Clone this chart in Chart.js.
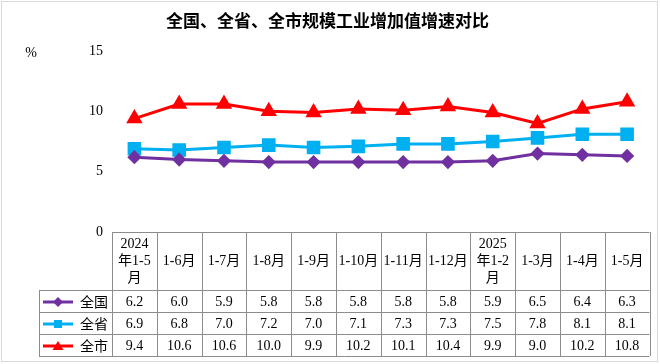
<!DOCTYPE html>
<html>
<head>
<meta charset="utf-8">
<script src="https://cdn.jsdelivr.net/npm/chart.js"></script>
<style>
  html, body { margin: 0; padding: 0; background: #fff; }
  #wrap { width: 660px; height: 364px; position: relative; }
</style>
</head>
<body>
<div id="wrap"><canvas id="growthChart" width="660" height="364"></canvas></div>
<script>
// ---------------- DATA ----------------

const periods = [
    ["2024", "年1-5", "月"],
    ["1-6月"], ["1-7月"], ["1-8月"], ["1-9月"], ["1-10月"],
    ["1-11月"], ["1-12月"],
    ["2025", "年1-2", "月"],
    ["1-3月"], ["1-4月"], ["1-5月"]
];

const nationValues = [6.2, 6.0, 5.9, 5.8, 5.8, 5.8, 5.8, 5.8, 5.9, 6.5, 6.4, 6.3];
const provinceValues = [6.9, 6.8, 7.0, 7.2, 7.0, 7.1, 7.3, 7.3, 7.5, 7.8, 8.1, 8.1];
const cityValues = [9.4, 10.6, 10.6, 10.0, 9.9, 10.2, 10.1, 10.4, 9.9, 9.0, 10.2, 10.8];

const seriesNames = ["全国", "全省", "全市"];
const yTicks = [0, 5, 10, 15];

const serif = "'Liberation Serif', 'Noto Sans CJK SC', serif";


// ---------------- HELPERS ----------------

function marker(ctx, style, x, y, r, color) {
    ctx.save();
    ctx.fillStyle = color;
    ctx.beginPath();
    if (style === "rectRot") {
        ctx.moveTo(x, y - r);
        ctx.lineTo(x + r, y);
        ctx.lineTo(x, y + r);
        ctx.lineTo(x - r, y);
    } else if (style === "rect") {
        ctx.rect(x - r, y - r, 2 * r, 2 * r);
    } else {
        ctx.moveTo(x, y - r);
        ctx.lineTo(x + r * 1.1, y + r * 0.8);
        ctx.lineTo(x - r * 1.1, y + r * 0.8);
    }
    ctx.closePath();
    ctx.fill();
    ctx.restore();
}


// ---------------- TABLE + FRAME PLUGIN ----------------

const dataTable = {
    id: "dataTable",
    afterDraw(chart) {
        const ctx = chart.ctx;
        const area = chart.chartArea;
        const x = chart.scales.x;
        const n = periods.length;
        const step = (area.right - area.left) / n;

        const top = Math.round(area.bottom);
        const headBottom = top + 58;
        const rowH = 22;
        const labelLeft = 39;
        const bottom = headBottom + rowH * 3;

        ctx.save();

        // outer frame
        ctx.strokeStyle = "#d9d9d9";
        ctx.lineWidth = 1;
        ctx.strokeRect(1.5, 1.5, 656, 360);

        // % unit
        ctx.fillStyle = "#000";
        ctx.font = "14px " + serif;
        ctx.textAlign = "center";
        ctx.textBaseline = "middle";
        ctx.fillText("%", 31, 53);

        // grid lines
        ctx.strokeStyle = "#8c8c8c";
        ctx.lineWidth = 1;
        ctx.beginPath();
        ctx.moveTo(area.left, top + 0.5);
        ctx.lineTo(area.right, top + 0.5);
        for (let r = 0; r <= 3; r++) {
            const yy = Math.round(headBottom + r * rowH) + 0.5;
            ctx.moveTo(labelLeft, yy);
            ctx.lineTo(area.right, yy);
        }
        for (let i = 0; i <= n; i++) {
            const xx = Math.round(area.left + i * step) + 0.5;
            ctx.moveTo(xx, top);
            ctx.lineTo(xx, bottom);
        }
        ctx.moveTo(labelLeft + 0.5, headBottom);
        ctx.lineTo(labelLeft + 0.5, bottom);
        ctx.stroke();

        // header labels
        ctx.fillStyle = "#000";
        ctx.font = "14px " + serif;
        periods.forEach((lines, i) => {
            const cx = x.getPixelForValue(i);
            const midY = (top + headBottom) / 2;
            const lh = 17;
            lines.forEach((t, k) => {
                ctx.fillText(t, cx, midY + (k - (lines.length - 1) / 2) * lh);
            });
        });

        // rows
        chart.data.datasets.forEach((ds, r) => {
            const cy = headBottom + rowH * r + rowH / 2 + 1;
            ds.data.forEach((v, i) => {
                ctx.font = "14px " + serif;
                ctx.fillText(v.toFixed(1), x.getPixelForValue(i), cy);
            });

            // legend key
            ctx.strokeStyle = ds.borderColor;
            ctx.lineWidth = 3;
            ctx.beginPath();
            ctx.moveTo(43, cy);
            ctx.lineTo(73, cy);
            ctx.stroke();
            marker(ctx, ds.pointStyle, 58, cy, ds.pointStyle === "rect" ? 4 : 5, ds.borderColor);

            ctx.fillStyle = "#000";
            ctx.textAlign = "left";
            ctx.font = "14px 'Noto Sans CJK SC', sans-serif";
            ctx.fillText(ds.label, 80, cy);
            ctx.textAlign = "center";
        });

        ctx.restore();
    }
};


// ---------------- LINE CHART ----------------

const growthCtx =
document.getElementById("growthChart");

new Chart(growthCtx, {

    type: "line",

    data: {

        labels: periods,

        datasets: [
            {
                label: seriesNames[0],
                data: nationValues,
                borderColor: "#7030A0",
                backgroundColor: "#7030A0",
                pointStyle: "rectRot",
                pointRadius: 5,
                borderWidth: 3
            },
            {
                label: seriesNames[1],
                data: provinceValues,
                borderColor: "#00B0F0",
                backgroundColor: "#00B0F0",
                pointStyle: "rect",
                pointRadius: 7.5,
                borderWidth: 3
            },
            {
                label: seriesNames[2],
                data: cityValues,
                borderColor: "#FF0000",
                backgroundColor: "#FF0000",
                pointStyle: "triangle",
                pointRadius: 6.5,
                borderWidth: 3
            }
        ]
    },

    options: {
        responsive: false,
        animation: false,
        devicePixelRatio: 1,
        layout: {
            padding: { left: 0, right: 5, top: 0, bottom: 132 }
        },
        elements: {
            line: { tension: 0 },
            point: { borderWidth: 1, hoverRadius: 6 }
        },
        plugins: {
            legend: { display: false },
            tooltip: { enabled: false },
            title: {
                display: true,
                text: "全国、全省、全市规模工业增加值增速对比",
                color: "#000",
                font: { family: "'Noto Sans CJK SC', sans-serif", size: 17, weight: "bold", lineHeight: 1.2 },
                padding: { top: 10, bottom: 20.6 }
            }
        },
        scales: {
            x: {
                offset: true,
                display: false
            },
            y: {
                min: 0,
                max: 15,
                afterBuildTicks(scale) {
                    scale.ticks = yTicks.map(v => ({ value: v }));
                },
                afterFit(scale) {
                    scale.width = 112;
                },
                grid: { display: false, drawTicks: false },
                border: { display: false },
                ticks: {
                    color: "#000",
                    padding: 9,
                    font: { family: serif, size: 14 }
                }
            }
        }
    },

    plugins: [dataTable]
});
</script>
</body>
</html>
